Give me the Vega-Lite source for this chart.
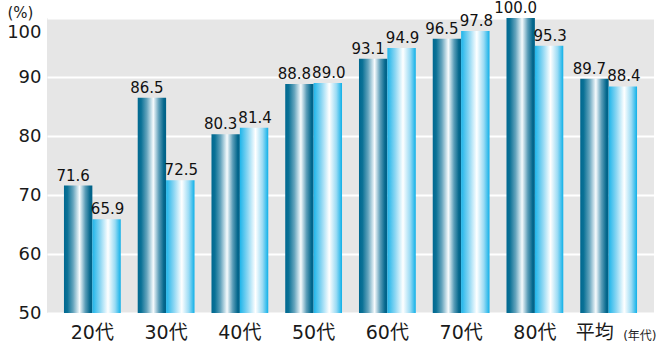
{
  "$schema": "https://vega.github.io/schema/vega-lite/v6.json",
  "autosize": "none",
  "width": 607,
  "height": 295,
  "padding": {"left": 47, "top": 18, "right": 13, "bottom": 32},
  "background": "#ffffff",
  "config": {
    "view": {"fill": "#e6e6e6", "stroke": null},
    "font": "DejaVu Sans, Noto Sans CJK JP, sans-serif"
  },
  "data": {
    "values": [
      {"age": "20代", "series": "A", "value": 71.6},
      {"age": "20代", "series": "B", "value": 65.9},
      {"age": "30代", "series": "A", "value": 86.5},
      {"age": "30代", "series": "B", "value": 72.5},
      {"age": "40代", "series": "A", "value": 80.3},
      {"age": "40代", "series": "B", "value": 81.4},
      {"age": "50代", "series": "A", "value": 88.8},
      {"age": "50代", "series": "B", "value": 89.0},
      {"age": "60代", "series": "A", "value": 93.1},
      {"age": "60代", "series": "B", "value": 94.9},
      {"age": "70代", "series": "A", "value": 96.5},
      {"age": "70代", "series": "B", "value": 97.8},
      {"age": "80代", "series": "A", "value": 100.0},
      {"age": "80代", "series": "B", "value": 95.3},
      {"age": "平均", "series": "A", "value": 89.7},
      {"age": "平均", "series": "B", "value": 88.4}
    ]
  },
  "encoding": {
    "x": {
      "field": "age",
      "type": "nominal",
      "sort": null,
      "scale": {"paddingInner": 0.23, "paddingOuter": 0.23},
      "axis": {
        "title": "(年代)",
        "titleFontSize": 12,
        "titleFontWeight": "normal",
        "titleColor": "#222222",
        "titleAlign": "right",
        "titleBaseline": "alphabetic",
        "titleAnchor": "start",
        "titleX": 609,
        "titleY": 26,
        "labelAngle": 0,
        "labelFontSize": 19,
        "labelColor": "#1a1a1a",
        "labelPadding": 10,
        "labelOffset": {"condition": {"test": "datum.value === '平均'", "value": -14}, "value": 0},
        "domain": false,
        "ticks": false
      }
    },
    "xOffset": {
      "field": "series",
      "type": "nominal",
      "scale": {"paddingInner": 0, "paddingOuter": 0}
    },
    "y": {
      "field": "value",
      "type": "quantitative",
      "scale": {"domain": [50, 100], "nice": false, "zero": false},
      "axis": {
        "values": [50, 60, 70, 80, 90, 100],
        "title": "(%)",
        "titleAngle": 0,
        "titleAlign": "left",
        "titleBaseline": "alphabetic",
        "titleX": -40,
        "titleY": -1,
        "titleFontSize": 15,
        "titleFontWeight": "normal",
        "titleColor": "#1a1a1a",
        "labelFontSize": 18,
        "labelColor": "#1a1a1a",
        "labelPadding": 6,
        "labelOffset": {"condition": {"test": "datum.value === 100", "value": 14}, "value": 0},
        "domain": false,
        "ticks": false,
        "grid": true,
        "gridColor": "#ffffff",
        "gridWidth": 2
      }
    }
  },
  "layer": [
    {
      "transform": [{"filter": "datum.series === 'A'"}],
      "mark": {
        "type": "bar",
        "color": {
          "gradient": "linear",
          "x1": 0, "x2": 1, "y1": 0, "y2": 0,
          "stops": [
            {"offset": 0, "color": "#006890"},
            {"offset": 0.12, "color": "#0a7196"},
            {"offset": 0.32, "color": "#64a4bd"},
            {"offset": 0.55, "color": "#f7fbfd"},
            {"offset": 0.75, "color": "#5a9db8"},
            {"offset": 0.92, "color": "#04678c"},
            {"offset": 1, "color": "#006188"}
          ]
        }
      },
      "encoding": {"y2": {"datum": 50}}
    },
    {
      "transform": [{"filter": "datum.series === 'B'"}],
      "mark": {
        "type": "bar",
        "color": {
          "gradient": "linear",
          "x1": 0, "x2": 1, "y1": 0, "y2": 0,
          "stops": [
            {"offset": 0, "color": "#1db5ea"},
            {"offset": 0.28, "color": "#8ed7f3"},
            {"offset": 0.55, "color": "#ffffff"},
            {"offset": 0.8, "color": "#9adbf4"},
            {"offset": 1, "color": "#0fb0e8"}
          ]
        }
      },
      "encoding": {"y2": {"datum": 50}}
    },
    {
      "transform": [{"filter": "datum.series === 'A'"}],
      "mark": {
        "type": "text",
        "baseline": "alphabetic",
        "dy": -5,
        "dx": -5,
        "fontSize": 15,
        "color": "#111111"
      },
      "encoding": {
        "text": {"field": "value", "type": "quantitative", "format": ".1f"}
      }
    },
    {
      "transform": [{"filter": "datum.series === 'B'"}],
      "mark": {
        "type": "text",
        "baseline": "alphabetic",
        "dy": -5,
        "dx": 1,
        "fontSize": 15,
        "color": "#111111"
      },
      "encoding": {
        "text": {"field": "value", "type": "quantitative", "format": ".1f"}
      }
    }
  ]
}
